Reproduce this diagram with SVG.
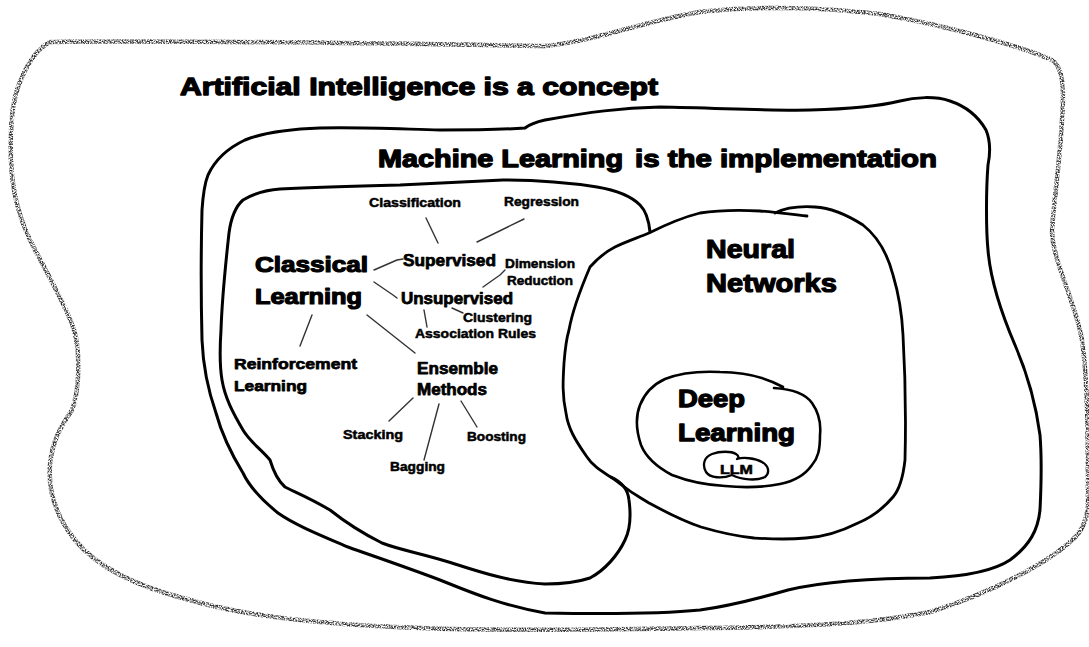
<svg xmlns="http://www.w3.org/2000/svg" width="1089" height="647" viewBox="0 0 1089 647">
  <style>
    .t { font-family: "Liberation Sans", Arial, sans-serif; font-weight: bold; fill: #000; stroke: #000; stroke-linejoin: round; }
    .xl { font-size: 24px; stroke-width: 1.3px; }
    .l { font-size: 22px; stroke-width: 1.2px; }
    .m { font-size: 16px; stroke-width: 0.75px; }
    .s { font-size: 12.5px; stroke-width: 0.5px; }
    .ring { fill: none; stroke: #000; stroke-width: 3; stroke-linecap: round; stroke-linejoin: round; }
    .thin { fill: none; stroke: #333; stroke-width: 1.4; stroke-linecap: round; stroke-linejoin: round; }
    .grainy { fill: none; stroke: #333; stroke-width: 4.5; stroke-linecap: round; stroke-linejoin: round; }
  </style>
  <defs>
    <!-- speckled pencil texture for the outermost boundary -->
    <filter id="grain" x="-3%" y="-3%" width="106%" height="106%">
      <feTurbulence type="fractalNoise" baseFrequency="0.75" numOctaves="2" seed="7" result="noise"/>
      <feColorMatrix in="noise" type="matrix" values="0 0 0 0 0  0 0 0 0 0  0 0 0 0 0  3.2 0 0 0 -1.1" result="speck"/>
      <feComposite in="SourceGraphic" in2="speck" operator="in"/>
    </filter>
  </defs>

  <rect width="1089" height="647" fill="#fff"/>

  <!-- Artificial Intelligence -->
  <g id="ai">
    <path class="grainy" filter="url(#grain)" d="M 50,42 C 200,40 420,44 545,46 C 600,40 640,22 700,12 C 760,5 830,8 880,14 C 960,28 1030,50 1052,60 C 1064,68 1064,90 1062,120 C 1060,160 1054,200 1052,230 C 1052,260 1075,300 1082,340 C 1088,380 1088,450 1088,500 C 1088,520 1082,532 1070,542 C 1050,560 1000,590 930,612 C 880,622 820,627 700,628 C 600,630 500,631 420,628 C 330,625 250,618 190,600 C 130,585 95,565 75,540 C 55,515 48,490 50,465 C 52,440 62,425 72,410 C 80,390 80,350 74,330 C 66,305 45,270 30,240 C 18,215 12,190 11,160 C 10,130 12,100 20,82 C 28,62 38,48 50,42 Z"/>
    <text class="t xl" x="180" y="95" textLength="478" lengthAdjust="spacingAndGlyphs">Artificial Intelligence is a concept</text>
  </g>

  <!-- Machine Learning -->
  <g id="ml">
    <path class="ring" d="M 208,175 C 215,160 228,148 245,140 C 265,132 290,129 320,128 C 360,127 400,129 440,130 C 480,130 510,129 525,128 C 530,124 536,122 545,120 C 590,112 620,108 660,107 C 720,108 770,111 810,110 C 850,109 880,106 900,101 C 915,97 935,96 950,101 C 965,106 978,116 986,130 C 991,142 990,155 988,165 C 986,190 986,230 988,250 C 990,275 1000,310 1015,345 C 1028,375 1036,405 1040,435 C 1042,460 1041,490 1040,510 C 1038,530 1030,545 1010,560 C 995,570 970,576 930,578 C 880,578 830,580 788,590 C 760,598 730,606 700,610 C 660,614 600,614 545,613 C 500,605 470,592 440,580 C 400,565 370,555 348,547 C 320,535 295,525 278,513 C 262,500 250,488 243,473 C 232,455 222,435 216,413 C 208,390 203,365 202,340 C 201,300 201,250 202,210 C 203,195 204,185 208,175 Z"/>
    <text class="t xl" x="378" y="167" textLength="245" lengthAdjust="spacingAndGlyphs">Machine Learning</text>
    <text class="t xl" x="635" y="167" textLength="302" lengthAdjust="spacingAndGlyphs">is the implementation</text>
  </g>

  <!-- Classical Learning -->
  <g id="classical">
    <path class="ring" d="M 611,477 C 622,482 628,490 629,500 C 631,515 630,530 625,540 C 618,555 605,570 590,578 C 575,583 560,584 545,584 C 510,582 480,572 452,563 C 420,553 400,550 382,543 C 360,532 340,518 330,510 C 310,498 295,492 285,487 C 277,480 273,470 270,460 C 262,450 250,442 243,430 C 233,413 225,398 222,380 C 219,362 220,345 221,330 C 222,300 226,260 229,233 C 231,218 235,207 243,200 C 255,193 265,190 280,189 C 320,187 360,186 400,185 C 440,183 480,181 503,180 C 530,180 565,182 597,187 C 615,190 630,195 640,205 C 647,212 649,222 650,232"/>
    <text class="t l" x="255" y="272" textLength="113" lengthAdjust="spacingAndGlyphs">Classical</text>
    <text class="t l" x="255" y="304" textLength="107" lengthAdjust="spacingAndGlyphs">Learning</text>
  </g>

  <g id="supervised"><text class="t m" x="403" y="266" textLength="93" lengthAdjust="spacingAndGlyphs">Supervised</text></g>
  <g id="classification"><text class="t s" x="369" y="207" textLength="92" lengthAdjust="spacingAndGlyphs">Classification</text></g>
  <g id="regression"><text class="t s" x="504" y="206" textLength="75" lengthAdjust="spacingAndGlyphs">Regression</text></g>
  <g id="unsupervised"><text class="t m" x="401" y="304" textLength="112" lengthAdjust="spacingAndGlyphs">Unsupervised</text></g>
  <g id="dimension-reduction">
    <text class="t s" x="505" y="268" textLength="70" lengthAdjust="spacingAndGlyphs">Dimension</text>
    <text class="t s" x="507" y="285" textLength="66" lengthAdjust="spacingAndGlyphs">Reduction</text>
  </g>
  <g id="clustering"><text class="t s" x="463" y="322" textLength="69" lengthAdjust="spacingAndGlyphs">Clustering</text></g>
  <g id="association-rules"><text class="t s" x="415" y="338" textLength="121" lengthAdjust="spacingAndGlyphs">Association Rules</text></g>
  <g id="reinforcement">
    <text class="t m" x="234" y="369" textLength="123" lengthAdjust="spacingAndGlyphs" style="font-size:15px">Reinforcement</text>
    <text class="t m" x="234" y="391" textLength="73" lengthAdjust="spacingAndGlyphs" style="font-size:15px">Learning</text>
  </g>
  <g id="ensemble">
    <text class="t m" x="417" y="374" textLength="81" lengthAdjust="spacingAndGlyphs">Ensemble</text>
    <text class="t m" x="417" y="395" textLength="70" lengthAdjust="spacingAndGlyphs">Methods</text>
  </g>
  <g id="stacking"><text class="t s" x="343" y="439" textLength="60" lengthAdjust="spacingAndGlyphs">Stacking</text></g>
  <g id="bagging"><text class="t s" x="390" y="471" textLength="55" lengthAdjust="spacingAndGlyphs">Bagging</text></g>
  <g id="boosting"><text class="t s" x="467" y="441" textLength="59" lengthAdjust="spacingAndGlyphs">Boosting</text></g>

  <!-- Neural Networks -->
  <g id="neural-networks">
    <path class="ring" style="stroke-width:2.8" d="M 775,213 C 785,208 800,206 815,207 C 835,208 852,218 863,225 C 877,236 887,252 893,275 C 899,295 902,315 903,335 C 905,370 906,420 905,460 C 903,478 899,490 893,497 C 882,510 870,518 858,523 C 840,532 825,537 806,538 C 785,540 770,539 754,538 C 735,536 718,532 701,527 C 680,520 662,510 649,503 C 635,495 625,488 615,480 C 600,470 592,465 587,457 C 575,440 568,428 566,413 C 562,395 563,380 564,363 C 565,350 566,340 569,330 C 572,313 578,295 590,267 C 598,258 605,252 615,247 C 625,242 637,238 649,233 C 665,225 680,218 700,213 C 720,210 740,210 760,211 C 775,212 790,214 807,216"/>
    <text class="t l" x="706" y="258" textLength="89" lengthAdjust="spacingAndGlyphs" style="font-size:25px">Neural</text>
    <text class="t l" x="706" y="292" textLength="131" lengthAdjust="spacingAndGlyphs" style="font-size:25px">Networks</text>
  </g>

  <!-- Deep Learning -->
  <g id="deep-learning">
    <path class="ring" style="stroke-width:2.6" d="M 774,388 C 790,389 805,393 812,403 C 819,413 821,425 820,435 C 820,450 818,458 812,465 C 805,475 795,481 780,484 C 765,487 745,488 725,486 C 705,485 690,482 672,475 C 655,466 645,455 641,445 C 636,430 636,415 640,405 C 644,395 652,385 665,379 C 680,373 700,371 720,372 C 745,372 765,377 783,387"/>
    <text class="t xl" x="678" y="407" textLength="67" lengthAdjust="spacingAndGlyphs">Deep</text>
    <text class="t xl" x="678" y="441" textLength="117" lengthAdjust="spacingAndGlyphs">Learning</text>
  </g>

  <!-- LLM -->
  <g id="llm">
    <path class="ring" style="stroke-width:2.3" d="M 732,475 C 722,479 710,478 706,472 C 702,465 704,457 712,454 C 720,451 731,451 736,454 C 739,456 739,458 737,459 C 743,457 755,458 762,462 C 769,466 770,473 765,477 C 757,481 742,480 732,475 Z"/>
    <text class="t s" x="720" y="474" textLength="33" lengthAdjust="spacingAndGlyphs" style="font-size:12px">LLM</text>
  </g>

  <!-- connectors -->
  <g id="connectors">
    <path class="thin" d="M 426,218 L 438,243"/>
    <path class="thin" d="M 524,219 L 477,242"/>
    <path class="thin" d="M 374,270 L 397,260 L 403,259"/>
    <path class="thin" d="M 374,282 L 393,295 L 397,298"/>
    <path class="thin" d="M 505,270 L 500,275 L 483,287"/>
    <path class="thin" d="M 452,308 L 463,313"/>
    <path class="thin" d="M 424,310 L 427,327"/>
    <path class="thin" d="M 367,315 L 415,353"/>
    <path class="thin" d="M 312,315 L 300,346"/>
    <path class="thin" d="M 413,398 L 389,421"/>
    <path class="thin" d="M 439,404 L 424,460"/>
    <path class="thin" d="M 461,401 L 477,427"/>
  </g>
</svg>
